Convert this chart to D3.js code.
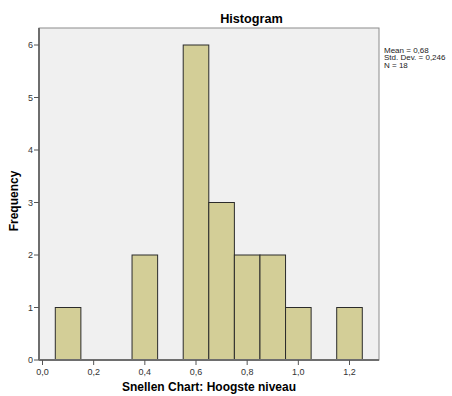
<!DOCTYPE html>
<html>
<head>
<meta charset="utf-8">
<script src="https://cdn.jsdelivr.net/npm/d3@7"></script>
<style>
  body { margin: 0; background: #fff; }
  text { font-family: Arial, "Liberation Sans", sans-serif; }
</style>
</head>
<body>
<svg width="452" height="396"></svg>
<script>
// histogram bins (Snellen Chart: Hoogste niveau)
const binStart = [0.05, 0.35, 0.55, 0.65, 0.75, 0.85, 0.95, 1.15];
const binEnd   = [0.15, 0.45, 0.65, 0.75, 0.85, 0.95, 1.05, 1.25];
const counts   = [1, 2, 6, 3, 2, 2, 1, 1];
const xTicks = [0, 0.2, 0.4, 0.6, 0.8, 1.0, 1.2];
const yTicks = [0, 1, 2, 3, 4, 5, 6];
const statsLines = ["Mean = 0,68", "Std. Dev. = 0,246", "N = 18"];

const svg = d3.select("svg");

const plotL = 39, plotR = 379, plotT = 28, plotB = 360;

const x = d3.scaleLinear().domain([0, 1.2]).range([42.5, 349.5]);
const y = d3.scaleLinear().domain([0, 6]).range([360, 45]);

const fmt = d => d3.format(".1f")(d).replace(".", ",");

// plot background
svg.append("rect")
    .attr("x", plotL).attr("y", plotT)
    .attr("width", plotR - plotL).attr("height", plotB - plotT)
    .attr("fill", "#f0f0f0")
    .attr("stroke", "#8c8c8c")
    .attr("stroke-width", 1);

// bars
svg.selectAll("rect.bar")
    .data(counts)
    .enter().append("rect")
    .attr("class", "bar")
    .attr("x", (d, i) => x(binStart[i]))
    .attr("y", d => y(d))
    .attr("width", (d, i) => x(binEnd[i]) - x(binStart[i]))
    .attr("height", d => y(0) - y(d))
    .attr("fill", "#d3ce97")
    .attr("stroke", "#2b2b2b")
    .attr("stroke-width", 1);

// axis lines (darker)
svg.append("line")
    .attr("x1", plotL).attr("x2", plotL).attr("y1", plotT).attr("y2", plotB)
    .attr("stroke", "#6e6e6e").attr("stroke-width", 2);
svg.append("line")
    .attr("x1", plotL).attr("x2", plotR).attr("y1", plotB).attr("y2", plotB)
    .attr("stroke", "#6e6e6e").attr("stroke-width", 2);

// y ticks
const yg = svg.append("g");
yTicks.forEach(t => {
    yg.append("line")
        .attr("x1", plotL - 5).attr("x2", plotL).attr("y1", y(t)).attr("y2", y(t))
        .attr("stroke", "#555");
    yg.append("text")
        .attr("x", plotL - 6).attr("y", y(t) + 3)
        .attr("text-anchor", "end")
        .attr("font-size", 9).attr("fill", "#333")
        .text(t);
});

// x ticks
const xg = svg.append("g");
xTicks.forEach(t => {
    xg.append("line")
        .attr("x1", x(t)).attr("x2", x(t)).attr("y1", plotB).attr("y2", plotB + 5)
        .attr("stroke", "#555");
    xg.append("text")
        .attr("x", x(t)).attr("y", plotB + 15)
        .attr("text-anchor", "middle")
        .attr("font-size", 9).attr("fill", "#333")
        .text(fmt(t));
});

// title
svg.append("text")
    .attr("x", 251.5).attr("y", 22.5)
    .attr("text-anchor", "middle")
    .attr("font-size", 12.7).attr("font-weight", "bold")
    .text("Histogram");

// axis labels
svg.append("text")
    .attr("x", (plotL + plotR) / 2).attr("y", 391)
    .attr("text-anchor", "middle")
    .attr("font-size", 12).attr("font-weight", "bold")
    .text("Snellen Chart: Hoogste niveau");

svg.append("text")
    .attr("transform", "translate(17.5,201) rotate(-90)")
    .attr("text-anchor", "middle")
    .attr("font-size", 12).attr("font-weight", "bold")
    .text("Frequency");

// stats box
svg.selectAll("text.stat")
    .data(statsLines)
    .enter().append("text")
    .attr("class", "stat")
    .attr("x", 384)
    .attr("y", (d, i) => 52.5 + i * 7.8)
    .attr("font-size", 8).attr("fill", "#222")
    .text(d => d);
</script>
</body>
</html>
